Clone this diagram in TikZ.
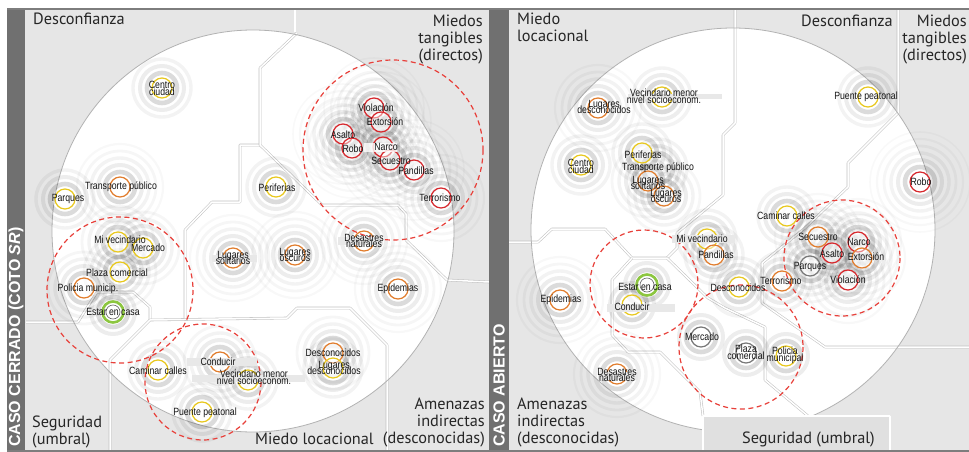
\documentclass[tikz,border=0pt]{standalone}
\usepackage{fontspec}
\setmainfont{Liberation Sans}
\newfontfamily\lblfont[FakeStretch=0.83]{Liberation Sans}
\newfontfamily\catfont{PT Sans}
\definecolor{bgout}{RGB}{230,230,230}
\definecolor{sidebar}{RGB}{112,112,112}
\definecolor{frameline}{RGB}{125,125,125}
\definecolor{cy}{RGB}{232,200,30}
\definecolor{co}{RGB}{225,125,45}
\definecolor{cr}{RGB}{215,40,45}
\definecolor{cg}{RGB}{140,198,63}
\definecolor{cn}{RGB}{120,120,120}
\definecolor{dashred}{RGB}{232,64,58}
\begin{document}
\begin{tikzpicture}[x=1pt,y=-1pt,
  lat/.style={draw=black!24, double=white, double distance=1.5pt, line width=0.55pt, line join=round},
  grp/.style={draw=dashred, line width=1.2pt, dash pattern=on 5pt off 3.5pt},
  lab/.style={font={\lblfont\fontsize{10.5}{6.8}\selectfont\lineskiplimit=-20pt\lineskip=0pt}, inner sep=0pt, align=center, text=black!92},
  cat/.style={font={\catfont\fontsize{16.3}{16.8}\selectfont}, inner sep=0pt, text=black!85},
  side/.style={font={\bfseries\fontsize{16}{16}\selectfont}, text=white, rotate=90, anchor=west, inner sep=0pt},
  labbar/.style={fill=black!9},
  halo/.style={draw=black}]
\useasboundingbox (0,0) rectangle (969,452);
\fill[white] (0,0) rectangle (969,452);

% panel backgrounds
\fill[bgout] (25,10) rectangle (489,450);
\fill[bgout] (509,10) rectangle (969,450);

% white discs
\fill[white] (253,231) circle (201);
\fill[white] (733,230) circle (202);

% region boundaries, left panel
\draw[lat] (295,9) -- (295,32);
\draw[lat] (26,322) -- (78,322) -- (97,292) -- (133,292) -- (150,307) -- (150,320);
\draw[lat] (110,450) -- (110,360) -- (150,320) -- (287,318) -- (297,308) -- (350,308) -- (387,345) -- (387,450);
\draw[lat] (185,318) -- (185,230) -- (212,202) -- (240,202) -- (240,145) -- (260,145);
\draw[lat] (297,33) -- (260,68) -- (260,145) -- (322,205) -- (398,205) -- (406,214) -- (406,240) -- (447,280) -- (489,282);

% region boundaries, right panel
\draw[lat] (735,9) -- (735,123) -- (723,135) -- (723,195) -- (677,233) -- (677,248) -- (667,258);
\draw[lat] (509,242) -- (538,242) -- (552,229) -- (605,229) -- (632,258) -- (667,258) -- (708,298) -- (725,308) -- (765,327) -- (765,380) -- (808,416);
\draw[lat] (898,9) -- (898,113) -- (848,163) -- (848,187) -- (805,228) -- (762,263) -- (762,303) -- (825,347) -- (969,347);
\draw[lat] (632,258) -- (612,280) -- (612,335) -- (628,352) -- (660,352) -- (700,392) -- (703,416);

% disc outlines
\draw[black!30, line width=0.8pt] (253,231) circle (201);
\draw[black!30, line width=0.8pt] (733,230) circle (202);

% concentric halos: x / y / number of rings
\foreach \x/\y/\n in {
  162/88/3, 120/187/5, 65/199/3, 276/187/3,
  374/108/6, 381/122/6, 343/134/6, 352/148/6, 383/147/6, 390/160/6, 414/170/6, 441/198/5,
  233/258/5, 295/255/5, 364/241/5, 398/289/5,
  118/242/4, 143/248/4, 120/272/4, 84/288/4, 113/312/2,
  158/370/3, 220/362/4, 248/380/3, 202/412/3, 333/353/4, 333/368/3,
  598/108/5, 662/97/3, 581/165/3, 642/153/3, 658/168/3, 648/181/4, 664/196/4,
  707/239/3, 714/255/3, 739/287/3, 782/281/3, 787/216/3, 868/97/3, 920/182/6,
  818/237/5, 858/242/5, 832/253/5, 862/258/5, 810/266/4, 848/280/5,
  647/285/2, 632/305/2, 701/337/2, 746/353/2, 786/356/2, 560/300/5, 617/374/5}
  \foreach \k in {1,...,\n}{
    \pgfmathsetmacro\rr{8+7*\k}
    \pgfmathsetmacro\op{0.14/\k}
    \pgfmathsetmacro\lw{5.2-0.6*\k}
    \draw[halo, line width=\lw pt, draw opacity=\op] (\x,\y) circle (\rr);
  };

% coloured rings: x / y / colour
\foreach \x/\y/\c in {
  162/88/cy, 120/187/co, 65/199/cy, 276/187/cy,
  374/108/cr, 381/122/cr, 343/134/cr, 352/148/cr, 383/147/cr, 390/160/cr, 414/170/cr, 441/198/cr,
  233/258/co, 295/255/co, 364/241/co, 398/289/co,
  118/242/cy, 143/248/cy, 120/272/cy, 84/288/co,
  158/370/cy, 220/362/co, 248/380/cy, 202/412/cy, 333/353/co, 333/368/cy,
  598/108/co, 662/97/cy, 581/165/cy, 642/153/cy, 648/181/co, 664/196/co,
  707/239/cy, 714/255/co, 739/287/cy, 782/281/co, 787/216/cy, 868/97/cy, 920/182/cr,
  818/237/co, 858/242/cr, 832/253/cr, 862/258/co, 810/266/cn, 848/280/cr,
  632/305/cy, 701/337/cn, 746/353/cn, 786/356/cy, 560/300/co, 617/374/co}
  \draw[line width=1.2pt, draw=\c, fill=white, fill opacity=0.45] (\x,\y) circle (10);

% "Estar en casa" rings
\foreach \x/\y in {113/312, 647/285}{
  \draw[line width=2.6pt, draw=cg, fill=white] (\x,\y) circle (10.5);
  \draw[line width=0.6pt, draw=black!60] (\x,\y) circle (7);
}

% grouping circles
\draw[grp] (393,150) circle (90);
\draw[grp] (120,290) circle (73);
\draw[grp] (203,382) circle (58);
\draw[grp] (842,258) circle (58);
\draw[grp] (644,284) circle (54);
\draw[grp] (741,347) circle (62);

% bars behind some labels
\fill[labbar] (187,358) rectangle (257,366);
\fill[labbar] (192,375) rectangle (305,382);
\fill[labbar] (212,255) rectangle (257,262);
\fill[labbar] (338,237) rectangle (383,245);
\fill[white, opacity=0.8] (364,143) rectangle (397,152);
\fill[labbar] (628,94) rectangle (722,99);
\fill[labbar] (607,304) rectangle (675,312);
\fill[labbar] (672,235) rectangle (735,243);
\fill[labbar] (598,372) rectangle (638,380);

% labels, left panel
\node[lab] (lc-centro) at (162,88) {Centro\\ciudad};
\node[lab] (lc-transp) at (121,187) {Transporte público};
\node[lab] (lc-parques) at (68,199) {Parques};
\node[lab] (lc-perif) at (277,188) {Periferias};
\node[lab] (lc-viol) at (376,108) {Violación};
\node[lab] (lc-extor) at (385,122) {Extorsión};
\node[lab] (lc-asalto) at (343,135) {Asalto};
\node[lab] (lc-robo) at (353,149) {Robo};
\node[lab] (lc-narco) at (386,147) {Narco};
\node[lab] (lc-secu) at (391,161) {Secuestro};
\node[lab] (lc-pand) at (416,171) {Pandillas};
\node[lab] (lc-terror) at (440,198) {Terrorismo};
\node[lab] (lc-solit) at (233,258) {Lugares\\solitarios};
\node[lab] (lc-oscu) at (295,255) {Lugares\\oscuros};
\node[lab] (lc-desas) at (364,241) {Desastres\\naturales};
\node[lab] (lc-epid) at (398,289) {Epidemias};
\node[lab] (lc-mivec) at (120,240) {Mi vecindario};
\node[lab] (lc-merc) at (148,248) {Mercado};
\node[lab] (lc-plaza) at (117,273) {Plaza comercial};
\node[lab] (lc-poli) at (88,289) {Policia municip.};
\node[lab] (lc-casa) at (113,312) {Estar en casa};
\node[lab] (lc-camin) at (158,371) {Caminar calles};
\node[lab] (lc-cond) at (218,362) {Conducir};
\node[lab] (lc-vecmen) at (254,377) {Vecindario menor\\nivel socioeconom.};
\node[lab] (lc-puente) at (205,413) {Puente peatonal};
\node[lab] (lc-desc) at (333,353) {Desconocidos};
\node[lab] (lc-lugdesc) at (334,368) {Lugares\\desconocidos};

% labels, right panel
\node[lab] (rc-lugdesc) at (604,107) {Lugares\\desconocidos};
\node[lab] (rc-vecmen) at (664,96) {Vecindario menor\\nivel socioeconom.};
\node[lab] (rc-centro) at (581,166) {Centro\\ciudad};
\node[lab] (rc-perif) at (643,155) {Periferias};
\node[lab] (rc-transp) at (658,168) {Transporte público};
\node[lab] (rc-solit) at (648,183) {Lugares\\solitarios};
\node[lab] (rc-oscu) at (666,196) {Lugares\\oscuros};
\node[lab] (rc-mivec) at (702,239) {Mi vecindario};
\node[lab] (rc-pand) at (716,255) {Pandillas};
\node[lab] (rc-desc) at (738,288) {Desconocidos};
\node[lab] (rc-terror) at (781,281) {Terrorismo};
\node[lab] (rc-camin) at (786,216) {Caminar calles};
\node[lab] (rc-puente) at (866,97) {Puente peatonal};
\node[lab] (rc-robo) at (921,182) {Robo};
\node[lab] (rc-secu) at (818,237) {Secuestro};
\node[lab] (rc-narco) at (859,242) {Narco};
\node[lab] (rc-asalto) at (832,254) {Asalto};
\node[lab] (rc-extor) at (866,257) {Extorsión};
\node[lab] (rc-parq) at (810,267) {Parques};
\node[lab] (rc-viol) at (848,280) {Violación};
\node[lab] (rc-casa) at (645,287) {Estar en casa};
\node[lab] (rc-cond) at (632,307) {Conducir};
\node[lab] (rc-merc) at (702,337) {Mercado};
\node[lab] (rc-plaza) at (746,352) {Plaza\\comercial};
\node[lab] (rc-poli) at (785,355) {Policia\\municipal};
\node[lab] (rc-epid) at (561,300) {Epidemias};
\node[lab] (rc-desas) at (617,375) {Desastres\\naturales};

% caption panel at the foot of the right disc
\fill[black!12] (703,417) rectangle (890,450);
\draw[lat] (703,450) -- (703,416) -- (890,416) -- (890,450);

% category captions
\node[cat, anchor=base west] (c-desc-l) at (33,25) {Desconfianza};
\node[cat, align=right, anchor=north east] (c-tang-l) at (483,15) {Miedos\\tangibles\\(directos)};
\node[cat, align=left, anchor=north west] (c-seg-l) at (32,416) {Seguridad\\(umbral)};
\node[cat, anchor=base west] (c-loc-l) at (255,444) {Miedo locacional};
\node[cat, align=right, anchor=north east] (c-amen-l) at (485,398) {Amenazas\\indirectas\\(desconocidas)};
\node[cat, align=left, anchor=north west] (c-loc-r) at (517,13) {Miedo\\locacional};
\node[cat, anchor=base east] (c-desc-r) at (893,27) {Desconfianza};
\node[cat, align=right, anchor=north east] (c-tang-r) at (967,15) {Miedos\\tangibles\\(directos)};
\node[cat, align=left, anchor=north west] (c-amen-r) at (517,398) {Amenazas\\indirectas\\(desconocidas)};
\node[cat, anchor=base west] (c-seg-r) at (742,443) {Seguridad (umbral)};

% side bars and frame
\fill[sidebar] (7,8) rectangle (25,451);
\fill[sidebar] (489,8) rectangle (509,451);
\draw[frameline, line width=2pt] (7,9) -- (969,9);
\draw[frameline, line width=2pt] (7,450.5) -- (969,450.5);
\node[side] (s-left) at (16,447) {CASO CERRADO (COTO \textit{SR})};
\node[side] (s-right) at (499,447) {CASO ABIERTO};
\end{tikzpicture}
\end{document}
